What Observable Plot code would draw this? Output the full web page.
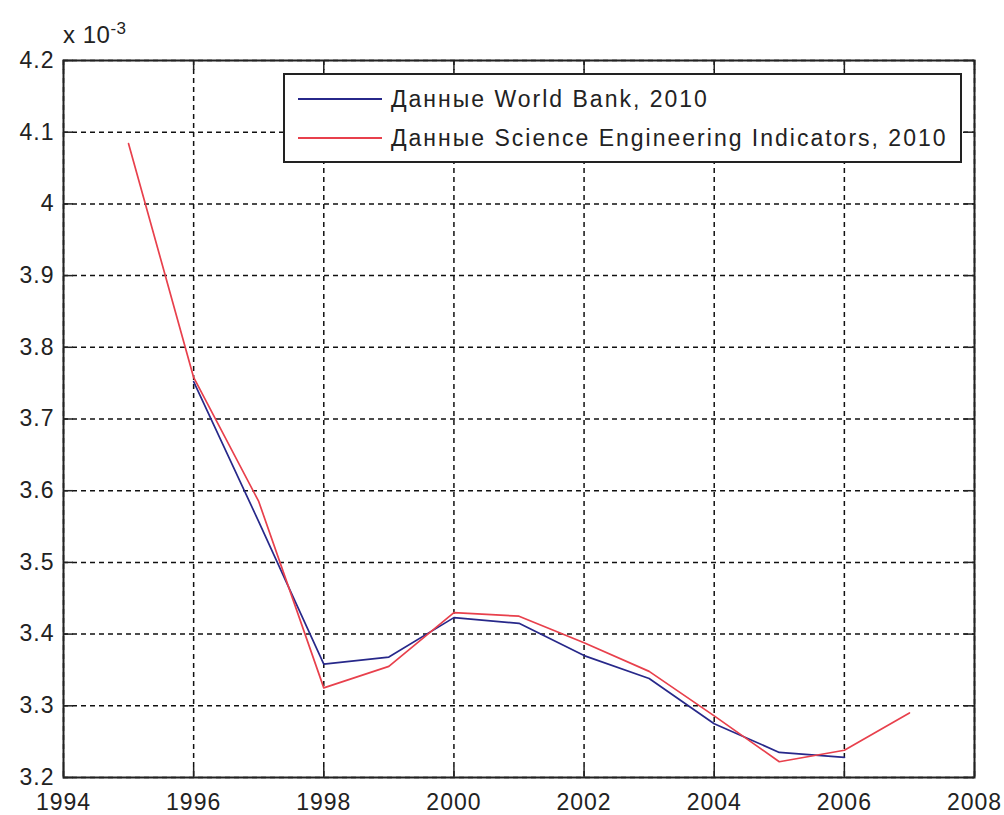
<!DOCTYPE html>
<html><head><meta charset="utf-8">
<script src="https://cdn.jsdelivr.net/npm/d3@7"></script>
<script src="https://cdn.jsdelivr.net/npm/@observablehq/plot@0.6"></script>
<style>
html,body{margin:0;padding:0;background:#fff;}
#wrap{position:relative;width:1004px;height:815px;font-family:"Liberation Sans",Arial,sans-serif;color:#222;}
#mult{position:absolute;left:63px;top:23px;font-size:24px;line-height:24px;white-space:nowrap;letter-spacing:0.5px;}
#mult sup{font-size:17px;position:relative;top:-6px;vertical-align:top;}
#legend{position:absolute;left:283px;top:73px;width:679px;height:90px;box-sizing:border-box;border:2px solid #222;background:#fff;}
.row{position:absolute;left:0;height:30px;width:100%;}
.row .ln{position:absolute;left:13px;width:84px;top:14px;height:0;border-top:2px solid;}
.row .tx{position:absolute;left:106px;top:0;font-size:23px;line-height:30px;white-space:nowrap;letter-spacing:2px;}
</style></head><body>
<div id="wrap"></div>
<script>
// Data (values in units of 10^-3)
const xTicks = [1994, 1996, 1998, 2000, 2002, 2004, 2006, 2008];
const yTicks = [3.2, 3.3, 3.4, 3.5, 3.6, 3.7, 3.8, 3.9, 4.0, 4.1, 4.2];
const seriesNames = ["Данные World Bank, 2010", "Данные Science Engineering Indicators, 2010"];
const seriesColors = ["#27288a", "#e8404c"];
const wbYears = [1996, 1997, 1998, 1999, 2000, 2001, 2002, 2003, 2004, 2005, 2006];
const wbValues = [3.752, 3.557, 3.358, 3.368, 3.423, 3.415, 3.370, 3.338, 3.275, 3.235, 3.228];
const seiYears = [1995, 1996, 1997, 1998, 1999, 2000, 2001, 2002, 2003, 2004, 2005, 2006, 2007];
const seiValues = [4.084, 3.758, 3.585, 3.325, 3.355, 3.430, 3.425, 3.388, 3.348, 3.286, 3.222, 3.238, 3.290];

const W = 1004, H = 815, mL = 63, mR = 30, mT = 60, mB = 38;
const innerW = W - mL - mR, innerH = H - mT - mB;
const wb = wbYears.map((y, i) => ({year: y, value: wbValues[i]}));
const sei = seiYears.map((y, i) => ({year: y, value: seiValues[i]}));
const gridStyle = {stroke: "#111", strokeOpacity: 1, strokeWidth: 1.5, strokeDasharray: "5,4"};

const chart = Plot.plot({
  width: W, height: H,
  marginLeft: mL, marginRight: mR, marginTop: mT, marginBottom: mB,
  style: {fontFamily: "'Liberation Sans', Arial, sans-serif", fontSize: "23px", color: "#222", background: "white", overflow: "visible", letterSpacing: "1px"},
  x: {domain: [1994, 2008]},
  y: {domain: [3.2, 4.2]},
  marks: [
    Plot.gridX(xTicks, gridStyle),
    Plot.gridY(yTicks, gridStyle),
    Plot.ruleX(xTicks, {x: d => d, stroke: "#222", strokeWidth: 1.5, insetTop: innerH - 10}),
    Plot.ruleX(xTicks, {x: d => d, stroke: "#222", strokeWidth: 1.5, insetBottom: innerH - 10}),
    Plot.ruleY(yTicks, {y: d => d, stroke: "#222", strokeWidth: 1.5, insetRight: innerW - 10}),
    Plot.ruleY(yTicks, {y: d => d, stroke: "#222", strokeWidth: 1.5, insetLeft: innerW - 10}),
    Plot.line(wb, {x: "year", y: "value", stroke: seriesColors[0], strokeWidth: 1.7}),
    Plot.line(sei, {x: "year", y: "value", stroke: seriesColors[1], strokeWidth: 1.7}),
    Plot.frame({stroke: "#222", strokeWidth: 2}),
    Plot.axisX(xTicks, {anchor: "bottom", tickSize: 0, tickPadding: 16, label: null, tickFormat: d => String(d), fontSize: 23}),
    Plot.axisY(yTicks, {anchor: "left", tickSize: 0, tickPadding: 9, label: null, tickFormat: d => String(+d.toFixed(1)), fontSize: 23})
  ]
});
const wrap = document.getElementById("wrap");
wrap.appendChild(chart);

const mult = document.createElement("div");
mult.id = "mult";
mult.innerHTML = "x 10<sup>-3</sup>";
wrap.appendChild(mult);

const legend = document.createElement("div");
legend.id = "legend";
seriesNames.forEach((name, i) => {
  const row = document.createElement("div");
  row.className = "row";
  row.style.top = (i === 0 ? 9 : 48) + "px";
  const ln = document.createElement("div");
  ln.className = "ln";
  ln.style.borderTopColor = seriesColors[i];
  const tx = document.createElement("div");
  tx.className = "tx";
  tx.textContent = name;
  row.appendChild(ln);
  row.appendChild(tx);
  legend.appendChild(row);
});
wrap.appendChild(legend);
</script>
</body></html>
